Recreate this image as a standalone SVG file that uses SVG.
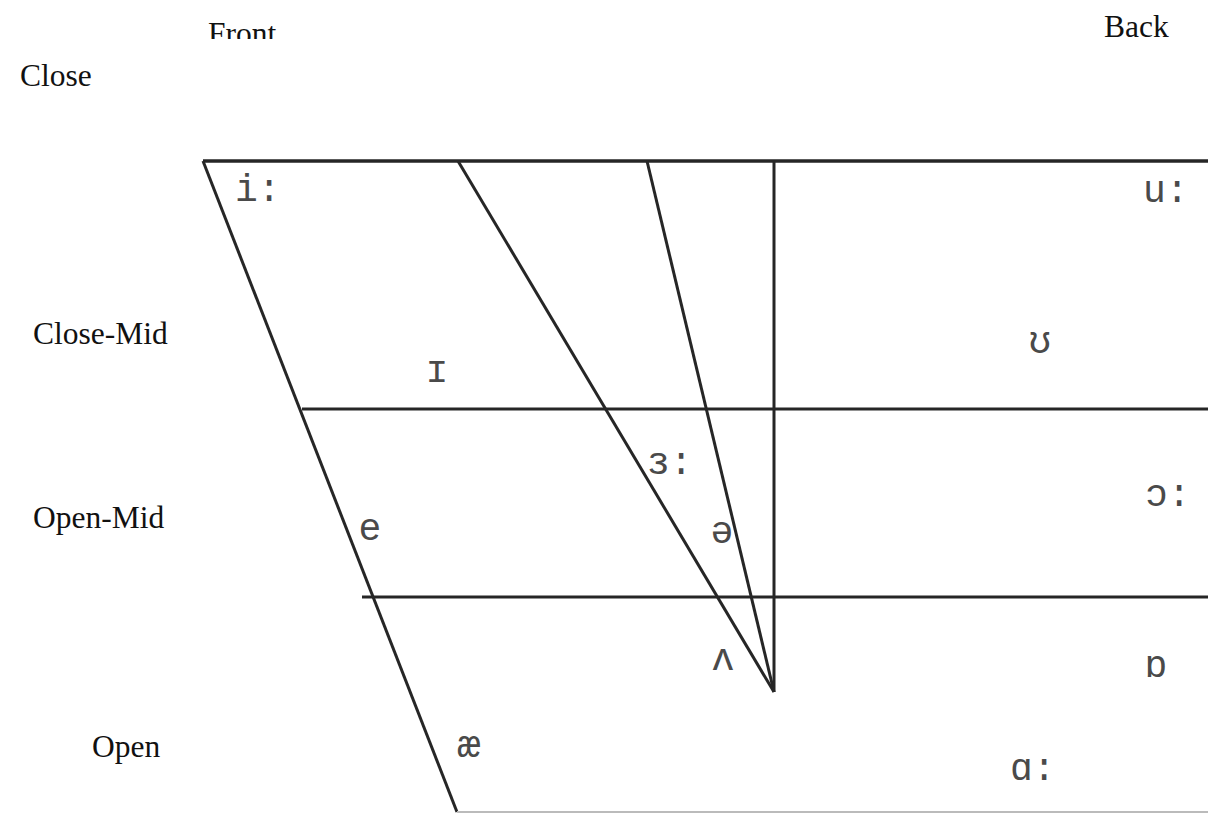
<svg xmlns="http://www.w3.org/2000/svg" width="1208" height="814" viewBox="0 0 1208 814">
<style>
.lbl{font-family:"Liberation Serif","Times New Roman",serif;font-size:31.5px;fill:#111}
.v{font-family:"Liberation Mono","Courier New",monospace;font-size:38px;fill:#4a4a4a}
.ln{stroke:#262626;stroke-width:3;fill:none;stroke-linecap:butt}
</style>
<defs>
<clipPath id="topclip"><rect x="0" y="0" width="1208" height="39"/></clipPath>
</defs>
<rect width="1208" height="814" fill="#fff"/>
<g id="axis-labels">
<text class="lbl" x="208" y="44" clip-path="url(#topclip)">Front</text>
<text class="lbl" x="1104" y="37">Back</text>
<text class="lbl" x="20" y="86">Close</text>
<text class="lbl" x="33" y="344">Close-Mid</text>
<text class="lbl" x="33" y="528">Open-Mid</text>
<text class="lbl" x="92" y="757">Open</text>
</g>
<g id="connectors">
<line class="ln" x1="203" y1="161" x2="1208" y2="161" style="stroke-width:3.5"/>
<line class="ln" x1="203" y1="161" x2="457" y2="812"/>
<line class="ln" x1="458" y1="161" x2="774" y2="692"/>
<line class="ln" x1="647" y1="161" x2="774" y2="692"/>
<line class="ln" x1="774" y1="161" x2="774" y2="692"/>
<line class="ln" x1="302" y1="409" x2="1208" y2="409"/>
<line class="ln" x1="362" y1="597" x2="1208" y2="597"/>
<line x1="457" y1="812" x2="1208" y2="812" stroke="#bbb" stroke-width="2"/>
</g>
<g id="vowels">
<g id="v-i"><text class="v" x="235" y="201">i:</text></g>
<g id="v-u"><text class="v" x="1143" y="202">u:</text></g>
<g id="v-I"><text class="v" x="437" y="382" text-anchor="middle">ɪ</text></g>
<g id="v-U"><text class="v" x="1040" y="353" text-anchor="middle">ʊ</text></g>
<g id="v-3"><text class="v" x="647" y="474">ɜ:</text></g>
<g id="v-o"><text class="v" x="1145" y="506">ɔ:</text></g>
<g id="v-e"><text class="v" x="370" y="540" text-anchor="middle">e</text></g>
<g id="v-schwa"><text class="v" x="722" y="543" text-anchor="middle">ə</text></g>
<g id="v-wedge"><text class="v" x="723" y="670" text-anchor="middle">ʌ</text></g>
<g id="v-D"><text class="v" x="1156" y="677" text-anchor="middle">ɒ</text></g>
<g id="v-ae"><text class="v" x="469" y="757" text-anchor="middle">æ</text></g>
<g id="v-a"><text class="v" x="1010" y="780">ɑ:</text></g>
</g>
</svg>
